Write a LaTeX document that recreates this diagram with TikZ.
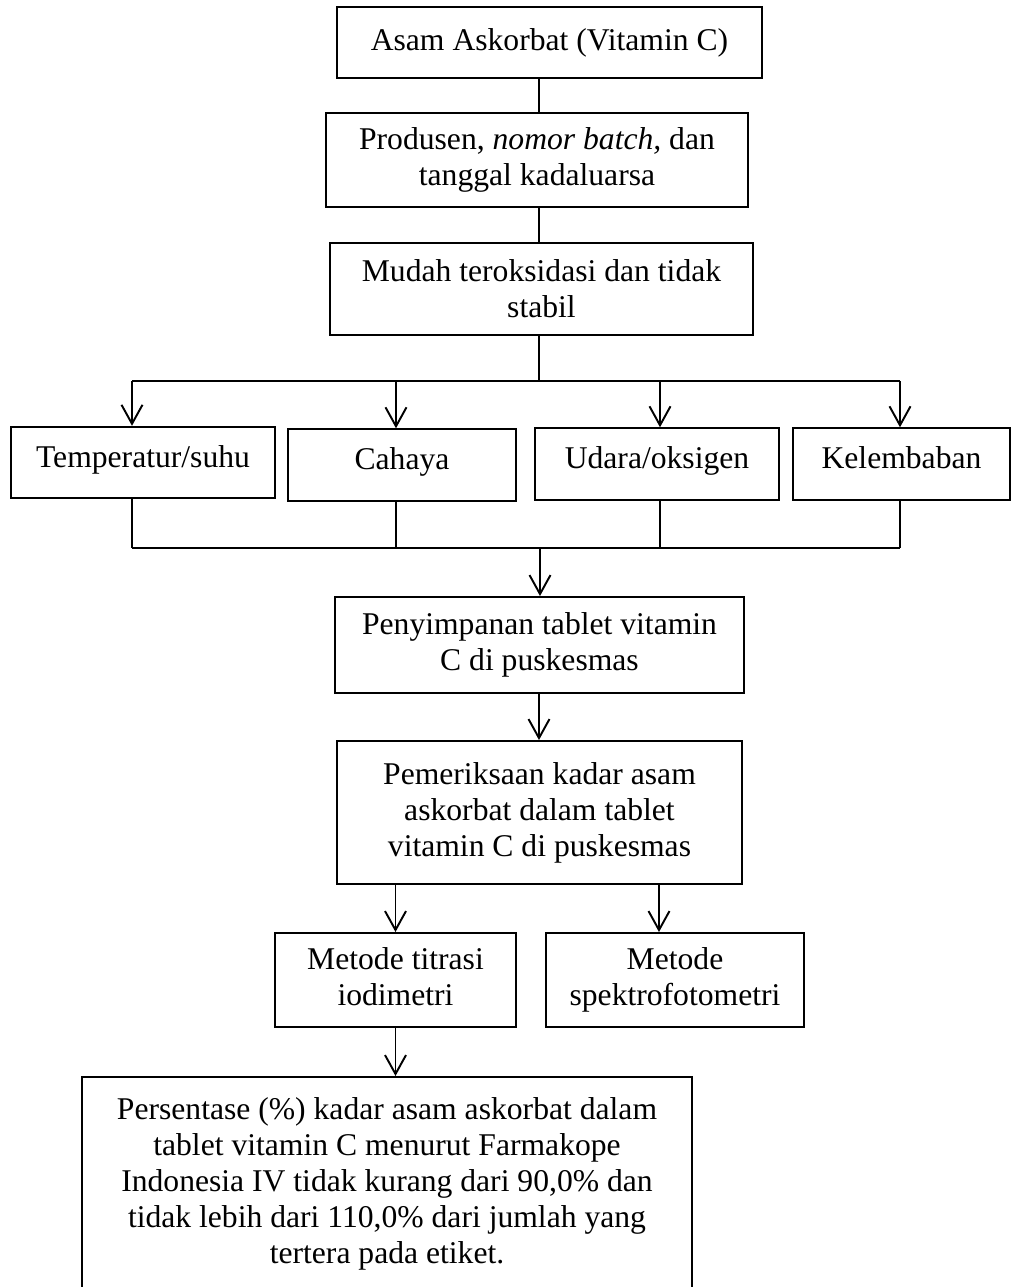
\documentclass[tikz,border=0pt]{standalone}
\usepackage{fontspec}
\setmainfont{Liberation Serif}
\usetikzlibrary{arrows.meta}

\begin{document}
\begin{tikzpicture}[every node/.style={font=\fontsize{18}{20.5}\selectfont}]
    \tikzstyle{kotak} = [rectangle, draw, line width=1.1pt, align=center, inner sep=0pt]
    \tikzstyle{faktor} = [kotak, minimum height=1.43cm, text height=0.45cm, text depth=0.27cm]
    \tikzstyle{metode} = [kotak, minimum height=1.88cm, text depth=0.12cm]
    \tikzstyle{panah} = [-{Straight Barb[length=0.38cm, width=0.42cm]}, line width=1.1pt]
    \tikzstyle{garis} = [line width=0.8pt]
    \useasboundingbox (0,0) rectangle (20.22,-25.74);

    % Alur atas
    \node [kotak, minimum width=8.5cm, minimum height=1.42cm] (asam) at (10.99,-0.85) {Asam Askorbat (Vitamin C)};
    \node [kotak, minimum width=8.44cm, minimum height=1.88cm] (produsen) at (10.74,-3.20) {Produsen, \textit{nomor batch,} dan \\ tanggal kadaluarsa};
    \node [kotak, minimum width=8.46cm, minimum height=1.84cm] (mudah) at (10.83,-5.78) {Mudah teroksidasi dan tidak \\ stabil};

    % Faktor
    \node [faktor, minimum width=5.28cm] (suhu) at (2.86,-9.25) {Temperatur/suhu};
    \node [faktor, minimum width=4.56cm] (cahaya) at (8.04,-9.30) {Cahaya};
    \node [faktor, minimum width=4.88cm] (udara) at (13.14,-9.28) {Udara/oksigen};
    \node [faktor, minimum width=4.34cm] (lembab) at (18.03,-9.28) {Kelembaban};

    % Penyimpanan dan pemeriksaan
    \node [kotak, minimum width=8.18cm, minimum height=1.92cm] (simpan) at (10.79,-12.90) {Penyimpanan tablet vitamin \\ C di puskesmas};
    \node [kotak, minimum width=8.10cm, minimum height=2.86cm] (periksa) at (10.79,-16.25) {Pemeriksaan kadar asam \\ askorbat dalam tablet \\ vitamin C di puskesmas};

    % Metode
    \node [metode, minimum width=4.82cm] (titrasi) at (7.91,-19.60) {Metode titrasi \\ iodimetri};
    \node [metode, minimum width=5.16cm] (spektro) at (13.50,-19.60) {Metode \\ spektrofotometri};

    % Hasil
    \node [kotak, minimum width=12.2cm, minimum height=4.26cm] (hasil) at (7.74,-23.67) {Persentase (\%) kadar asam askorbat dalam \\ tablet vitamin C menurut Farmakope \\ Indonesia IV tidak kurang dari 90,0\% dan \\ tidak lebih dari 110,0\% dari jumlah yang \\ tertera pada etiket.};

    % Titik bantu
    \coordinate (spine) at (10.78,-7.62);
    \coordinate (c1) at (2.64,-7.62);
    \coordinate (c2) at (7.92,-7.62);
    \coordinate (c3) at (13.20,-7.62);
    \coordinate (c4) at (18.00,-7.62);
    \coordinate (gabung) at (10.80,-10.96);
    \coordinate (c5) at (13.18,-17.68);

    % Garis penghubung
    \draw [garis] (asam.south -| spine) -- (produsen.north -| spine);
    \draw [garis] (produsen.south -| spine) -- (mudah.north -| spine);
    \draw [garis] (mudah.south -| spine) -- (spine);
    \draw [line width=1.1pt] (c1) -- (c4);

    \draw [panah] (c1) -- (c1 |- suhu.north);
    \draw [panah] (c2) -- (c2 |- cahaya.north);
    \draw [panah] (c3) -- (c3 |- udara.north);
    \draw [panah] (c4) -- (c4 |- lembab.north);

    \draw [garis] (c1 |- suhu.south) -- (c1 |- gabung);
    \draw [garis] (c2 |- cahaya.south) -- (c2 |- gabung);
    \draw [garis] (c3 |- udara.south) -- (c3 |- gabung);
    \draw [garis] (c4 |- lembab.south) -- (c4 |- gabung);
    \draw [line width=1.1pt] (c1 |- gabung) -- (c4 |- gabung);

    \draw [panah] (gabung) -- (gabung |- simpan.north);
    \draw [panah] (simpan.south -| spine) -- (periksa.north -| spine);
    \draw [panah] (periksa.south -| titrasi) -- (titrasi.north);
    \draw [panah] (c5) -- (c5 |- spektro.north);
    \draw [panah] (titrasi.south) -- (titrasi.south |- hasil.north);
\end{tikzpicture}
\end{document}
